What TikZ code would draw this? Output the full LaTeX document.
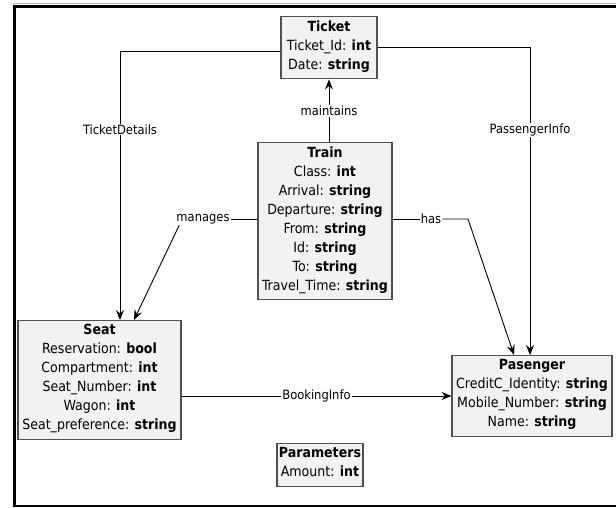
\documentclass[tikz,border=0pt]{standalone}
\usepackage{fontspec}
\setmainfont{DejaVu Sans Condensed}
\usetikzlibrary{arrows.meta}

\definecolor{boxfill}{HTML}{F2F2F2}
\definecolor{boxline}{HTML}{505050}

\tikzset{
    classbox/.style = {draw=boxline, fill=boxfill, line width=1.1pt, anchor=north,
        align=center, font=\fontsize{14}{19}\selectfont, inner xsep=2pt, inner ysep=4pt,
        execute at begin node=\strut, execute at end node=\strut},
    conn/.style = {draw=black, line width=0.9pt},
    arr/.style = {conn, -{Stealth[length=10pt, width=8pt, inset=3.5pt]}},
    lbl/.style = {fill=white, inner sep=1pt, font=\fontsize{12.8}{16}\selectfont}
}

\begin{document}
\begin{tikzpicture}[x=1pt, y=-1pt]
    \useasboundingbox (0,0) rectangle (616,508);
    % frame
    \draw[gray!55, line width=1.5pt] (13,3.5) -- (617,3.5);
    \draw[line width=2.5pt] (617,6.5) -- (14.3,6.5) -- (14.3,506) -- (617,506);

    % classes
    \node[classbox, minimum width=96pt] (Ticket) at (329,16)
        {\textbf{Ticket}\\Ticket\_Id: \textbf{int}\\Date: \textbf{string}};
    \node[classbox, minimum width=134pt] (Train) at (325,142)
        {\textbf{Train}\\Class: \textbf{int}\\Arrival: \textbf{string}\\Departure: \textbf{string}\\From: \textbf{string}\\Id: \textbf{string}\\To: \textbf{string}\\Travel\_Time: \textbf{string}};
    \node[classbox, minimum width=163pt] (Seat) at (99.5,320)
        {\textbf{Seat}\\Reservation: \textbf{bool}\\Compartment: \textbf{int}\\Seat\_Number: \textbf{int}\\Wagon: \textbf{int}\\Seat\_preference: \textbf{string}};
    \node[classbox, minimum width=160pt] (Pasenger) at (532,355)
        {\textbf{Pasenger}\\CreditC\_Identity: \textbf{string}\\Mobile\_Number: \textbf{string}\\Name: \textbf{string}};
    \node[classbox, minimum width=86pt] (Parameters) at (320,443)
        {\textbf{Parameters}\\Amount: \textbf{int}};

    % associations
    \draw[arr] ([yshift=-4pt]Ticket.west) -| ([xshift=20.5pt]Seat.north)
        node[lbl, pos=0.645] {TicketDetails};
    \draw[arr] (Ticket.east) -| ([xshift=-2pt]Pasenger.north)
        node[lbl, pos=0.634] {PassengerInfo};
    \draw[arr] (Ticket.south |- Train.north) -- (Ticket.south)
        node[lbl, midway] {maintains};

    \node[lbl] (lblmanages) at (203,219) {manages};
    \draw[conn] (Train.west |- lblmanages) -- (lblmanages.east);
    \draw[arr] ([xshift=4pt]lblmanages.south west) -- ([xshift=34.5pt]Seat.north);

    \node[lbl] (lblhas) at (431,219) {has};
    \coordinate (hasbend) at (468,219);
    \draw[conn] (Train.east |- lblhas) -- (lblhas.west);
    \draw[arr] (lblhas.east) -- (hasbend) -- ([xshift=-18pt]Pasenger.north);

    \draw[arr] (Seat.east |- Pasenger.west) -- (Pasenger.west)
        node[lbl, midway] {BookingInfo};
\end{tikzpicture}
\end{document}
